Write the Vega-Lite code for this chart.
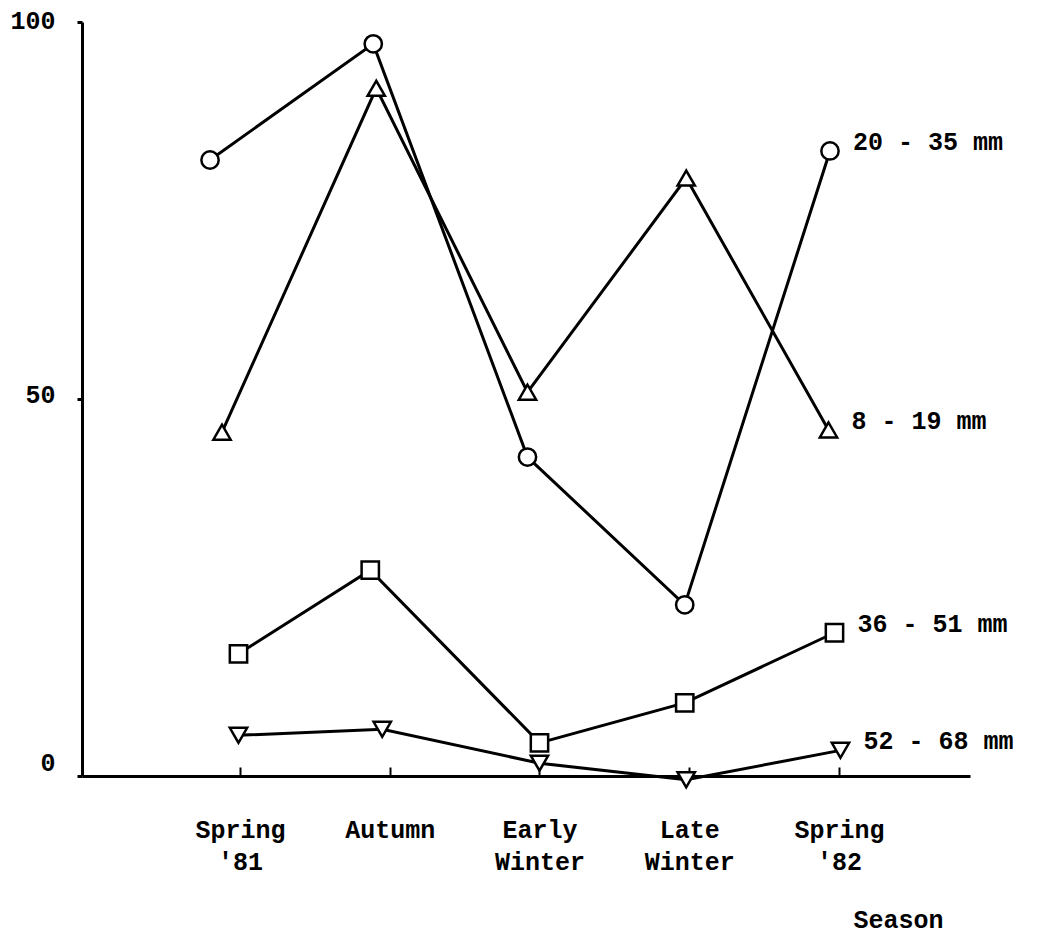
{
  "$schema": "https://vega.github.io/schema/vega-lite/v6.json",
  "width": 888,
  "height": 754,
  "autosize": {"type": "none"},
  "padding": {"left": 82, "top": 22, "right": 69, "bottom": 161},
  "background": "white",
  "config": {"view": {"stroke": null}, "font": "Liberation Mono", "axis": {"grid": false}},
  "data": {"values": [
    {"size": "20 - 35 mm", "season": "Spring '81", "idx": 1, "pos": 0.80, "pct": 81.7},
    {"size": "20 - 35 mm", "season": "Autumn", "idx": 2, "pos": 1.89, "pct": 97.1},
    {"size": "20 - 35 mm", "season": "Early Winter", "idx": 3, "pos": 2.92, "pct": 42.3},
    {"size": "20 - 35 mm", "season": "Late Winter", "idx": 4, "pos": 3.97, "pct": 22.7},
    {"size": "20 - 35 mm", "season": "Spring '82", "idx": 5, "pos": 4.94, "pct": 82.9},
    {"size": "8 - 19 mm", "season": "Spring '81", "idx": 1, "pos": 0.88, "pct": 45.6},
    {"size": "8 - 19 mm", "season": "Autumn", "idx": 2, "pos": 1.91, "pct": 91.2},
    {"size": "8 - 19 mm", "season": "Early Winter", "idx": 3, "pos": 2.92, "pct": 50.9},
    {"size": "8 - 19 mm", "season": "Late Winter", "idx": 4, "pos": 3.98, "pct": 79.3},
    {"size": "8 - 19 mm", "season": "Spring '82", "idx": 5, "pos": 4.93, "pct": 45.9},
    {"size": "36 - 51 mm", "season": "Spring '81", "idx": 1, "pos": 0.99, "pct": 16.2},
    {"size": "36 - 51 mm", "season": "Autumn", "idx": 2, "pos": 1.87, "pct": 27.3},
    {"size": "36 - 51 mm", "season": "Early Winter", "idx": 3, "pos": 3.00, "pct": 4.4},
    {"size": "36 - 51 mm", "season": "Late Winter", "idx": 4, "pos": 3.97, "pct": 9.7},
    {"size": "36 - 51 mm", "season": "Spring '82", "idx": 5, "pos": 4.97, "pct": 19.0},
    {"size": "52 - 68 mm", "season": "Spring '81", "idx": 1, "pos": 0.99, "pct": 5.4},
    {"size": "52 - 68 mm", "season": "Autumn", "idx": 2, "pos": 1.95, "pct": 6.2},
    {"size": "52 - 68 mm", "season": "Early Winter", "idx": 3, "pos": 3.00, "pct": 1.7},
    {"size": "52 - 68 mm", "season": "Late Winter", "idx": 4, "pos": 3.98, "pct": -0.5},
    {"size": "52 - 68 mm", "season": "Spring '82", "idx": 5, "pos": 5.01, "pct": 3.4}
  ]},
  "encoding": {
    "x": {
      "field": "pos", "type": "quantitative",
      "scale": {"domain": [-0.055, 5.875], "nice": false, "zero": false},
      "axis": {
        "values": [1, 2, 3, 4, 5],
        "domainColor": "black", "domainWidth": 3,
        "tickColor": "black", "tickSize": -9, "tickWidth": 2,
        "labelExpr": "datum.value == 1 ? ['Spring', \"'81\"] : datum.value == 2 ? 'Autumn' : datum.value == 3 ? ['Early', 'Winter'] : datum.value == 4 ? ['Late', 'Winter'] : ['Spring', \"'82\"]",
        "labelFont": "Liberation Mono", "labelFontSize": 25, "labelFontWeight": "bold",
        "labelColor": "black", "labelPadding": 50, "labelLineHeight": 32,
        "labelBaseline": "top", "labelAlign": "center", "labelFlush": false, "labelOverlap": false,
        "title": "Season", "titleX": 816, "titleY": 143, "titleAlign": "center", "titleBaseline": "middle",
        "titleFont": "Liberation Mono", "titleFontSize": 25, "titleFontWeight": "bold", "titleColor": "black"
      }
    },
    "y": {
      "field": "pct", "type": "quantitative",
      "scale": {"domain": [0, 100], "nice": false},
      "axis": {
        "values": [0, 50, 100],
        "domainColor": "black", "domainWidth": 3,
        "tickColor": "black", "tickSize": 5, "tickWidth": 3,
        "labelFont": "Liberation Mono", "labelFontSize": 25, "labelFontWeight": "bold",
        "labelColor": "black", "labelPadding": 22,
        "labelOffset": {"condition": [{"test": "datum.value == 0", "value": -14}, {"test": "datum.value == 50", "value": -5}], "value": -2},
        "labelFlush": false, "title": null
      }
    }
  },
  "layer": [
    {
      "mark": {"type": "line", "color": "black"},
      "encoding": {
        "detail": {"field": "size", "type": "nominal"},
        "order": {"field": "idx", "type": "quantitative"},
        "strokeWidth": {"field": "size", "type": "nominal",
          "scale": {"domain": ["20 - 35 mm", "8 - 19 mm", "36 - 51 mm", "52 - 68 mm"], "range": [3, 3, 3, 5]},
          "legend": null}
      }
    },
    {
      "mark": {"type": "point", "filled": true, "fill": "white", "stroke": "black", "strokeWidth": 2.5, "opacity": 1, "size": 300},
      "encoding": {
        "shape": {"field": "size", "type": "nominal",
          "scale": {"domain": ["20 - 35 mm", "8 - 19 mm", "36 - 51 mm", "52 - 68 mm"], "range": ["circle", "triangle-up", "square", "triangle-down"]},
          "legend": null}
      }
    },
    {
      "transform": [{"filter": "datum.idx == 5"}],
      "mark": {"type": "text", "align": "left", "baseline": "middle", "dx": 23, "dy": -9, "font": "Liberation Mono", "fontSize": 25, "fontWeight": "bold", "color": "black"},
      "encoding": {"text": {"field": "size", "type": "nominal"}}
    }
  ]
}
